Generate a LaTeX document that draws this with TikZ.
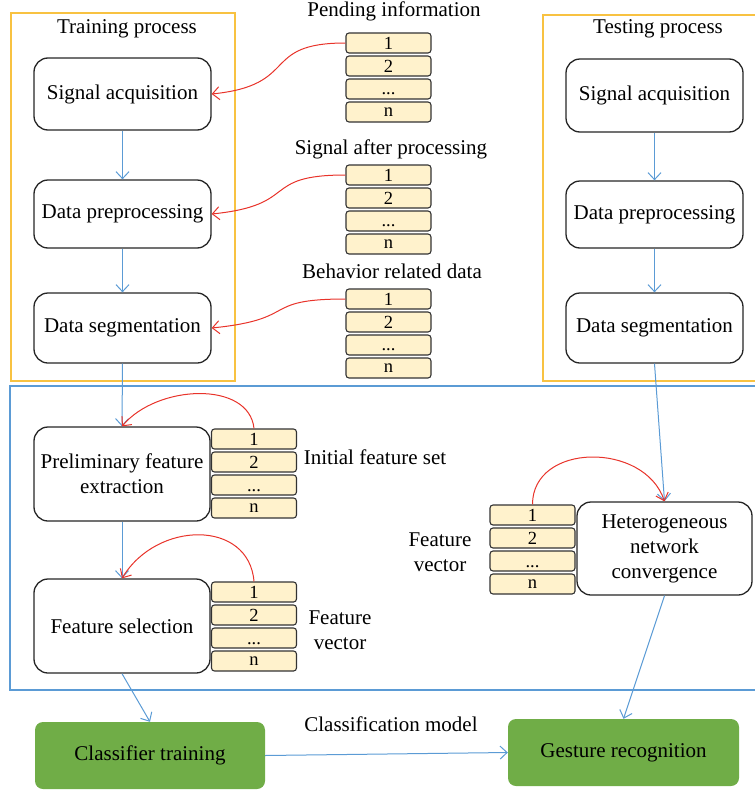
\documentclass[tikz,border=0pt]{standalone}
\usepackage{fontspec}
\setmainfont{Liberation Serif}
\usetikzlibrary{arrows.meta}
\definecolor{frameorange}{HTML}{F8C241}
\definecolor{frameblue}{HTML}{5B9BD5}
\definecolor{linkred}{HTML}{E8332A}
\definecolor{cellfill}{HTML}{FFF2CC}
\definecolor{stagegreen}{HTML}{70AD47}

% four stacked cells "1, 2, ..., n": name, centre x, top y
\newcommand{\cellstack}[3]{%
  \node[cell] (#1-1) at (#2,{#3+10}) {1};
  \node[cell] (#1-2) at (#2,{#3+33}) {2};
  \node[cell] (#1-3) at (#2,{#3+56}) {\vphantom{2}...};
  \node[cell] (#1-4) at (#2,{#3+79}) {n};
}

\begin{document}
\begin{tikzpicture}[x=1pt,y=-1pt,
  every node/.style={font=\fontsize{21}{25}\selectfont},
  stepbox/.style={draw=black!85, line width=1.3pt, rounded corners=14pt,
    fill=white, minimum width=177pt, align=center, inner sep=2pt},
  greenbox/.style={fill=stagegreen, rounded corners=8pt, minimum width=230pt,
    minimum height=67pt, inner sep=2pt},
  cell/.style={draw=black!80, line width=1.1pt, fill=cellfill, rounded corners=3pt,
    minimum width=85pt, minimum height=20pt, inner sep=0pt,
    font=\fontsize{18.5}{19}\selectfont},
  frame/.style={line width=1.3pt},
  tip/.style={-{Straight Barb[length=7pt,width=13pt]}},
  flow/.style={tip, draw=frameblue, line width=1pt},
  feed/.style={tip, draw=linkred, line width=1pt},
  caption/.style={anchor=base}]

\useasboundingbox (0,0) rectangle (755,790);
\clip (0,0) rectangle (755,790);

% frames
\draw[frame, frameorange] (11,13) rectangle (235,381);
\draw[frame, frameorange] (543,15) rectangle (770,381);
\draw[frame, frameblue] (10,386) rectangle (770,690);

% frame titles
\node[caption] (trainT) at (127,33) {Training process};
\node[caption] (testT) at (658,33) {Testing process};

% training process
\node[stepbox, minimum height=72pt] (sa) at (122.5,94) {Signal acquisition};
\node[stepbox, minimum height=68pt] (dp) at (122.5,214) {Data preprocessing};
\node[stepbox, minimum height=70pt] (ds) at (122.5,328) {Data segmentation};

% testing process
\node[stepbox, minimum height=73pt] (tsa) at (654.5,95.5) {Signal acquisition};
\node[stepbox, minimum height=67pt] (tdp) at (654.5,214.5) {Data preprocessing};
\node[stepbox, minimum height=70pt] (tds) at (654.5,328) {Data segmentation};

% feature stages
\node[stepbox, minimum width=176pt, minimum height=94pt] (pfe) at (122,474)
  {Preliminary feature\\extraction};
\node[stepbox, minimum width=176pt, minimum height=94pt] (fs) at (122,626)
  {Feature selection};
\node[stepbox, minimum width=175pt, minimum height=93pt] (het) at (664.5,548.5)
  {Heterogeneous\\network\\convergence};

% classification stages
\node[greenbox] (ct) at (150,755.5) {Classifier training};
\node[greenbox, minimum width=231pt] (gr) at (623.5,752.5) {Gesture recognition};

% data stacks
\cellstack{pi}{388.5}{33}
\cellstack{sp}{388.5}{165}
\cellstack{br}{388.5}{289}
\cellstack{ifs}{254}{429}
\cellstack{fv}{254}{582}
\cellstack{hv}{532.5}{505}

% stack captions
\node[caption] (piT) at (394,16) {Pending information};
\node[caption] (spT) at (391,154) {Signal after processing};
\node[caption] (brT) at (392,278) {Behavior related data};
\node[caption] (ifsT) at (375,464) {Initial feature set};
\node[align=center] (fvT) at (340,630) {Feature\\vector};
\node[align=center] (hvT) at (440,552) {Feature\\vector};
\node[caption] (cmT) at (391,731) {Classification model};

% main flow
\draw[flow] (sa) -- (dp);
\draw[flow] (dp) -- (ds);
\draw[flow] (tsa) -- (tdp);
\draw[flow] (tdp) -- (tds);
\draw[flow] (ds.south) -- (pfe.north);
\draw[flow] (pfe) -- (fs);
\draw[flow] (fs.south) -- (ct.north);
\draw[flow] (ct.east) -- (gr.west);
\draw[flow] (tds.south) -- (het.north);
\draw[flow] (het.south) -- (gr.north);

% data feeding the stages
\draw[feed] (pi-1.west) .. controls +(-86,0) and +(89,-9) .. (sa.east);
\draw[feed] (sp-1.west) .. controls +(-86,0) and +(89,-9) .. (dp.east);
\draw[feed] (br-1.west) .. controls +(-86,0) and +(89,-9) .. (ds.east);
\draw[feed] (ifs-1.north) .. controls +(-5,-48) and +(35,-42) .. (pfe.north);
\draw[feed] (fv-1.north) .. controls +(-5,-62) and +(35,-58) .. (fs.north);
\draw[feed] (hv-1.north) .. controls +(0,-62) and +(-20,-60) .. (het.north);

\end{tikzpicture}
\end{document}
